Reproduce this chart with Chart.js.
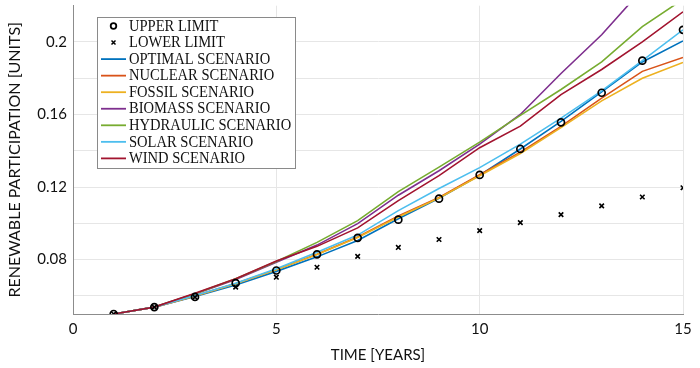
<!DOCTYPE html>
<html>
<head>
<meta charset="utf-8">
<script src="https://cdn.jsdelivr.net/npm/chart.js@4.4.1/dist/chart.umd.min.js"></script>
<style>
  html, body { margin: 0; padding: 0; background: #ffffff; }
  #wrap { width: 700px; height: 368px; position: relative; }
</style>
</head>
<body>
<div id="wrap"><canvas id="c" width="700" height="368"></canvas></div>
<script>
// ---------- data ----------
const years = [1, 2, 3, 4, 5, 6, 7, 8, 9, 10, 11, 12, 13, 14, 15];

const upperLimit = [0.0500, 0.0538, 0.0594, 0.0670, 0.0740, 0.0829, 0.0920, 0.1020, 0.1136, 0.1267, 0.1410, 0.1557, 0.1720, 0.1897, 0.2067];
const lowerLimit = [0.0500, 0.0538, 0.0593, 0.0648, 0.0703, 0.0758, 0.0818, 0.0867, 0.0911, 0.0960, 0.1004, 0.1048, 0.1096, 0.1145, 0.1196];

const optimalScenario   = [0.0500, 0.0538, 0.0597, 0.0660, 0.0735, 0.0815, 0.0905, 0.1025, 0.1138, 0.1265, 0.1410, 0.1562, 0.1725, 0.1890, 0.2006];
const nuclearScenario   = [0.0500, 0.0538, 0.0600, 0.0668, 0.0745, 0.0830, 0.0925, 0.1040, 0.1143, 0.1268, 0.1392, 0.1535, 0.1690, 0.1838, 0.1915];
const fossilScenario    = [0.0500, 0.0538, 0.0600, 0.0667, 0.0744, 0.0828, 0.0922, 0.1035, 0.1140, 0.1262, 0.1385, 0.1528, 0.1675, 0.1800, 0.1887];
const biomassScenario   = [0.0500, 0.0538, 0.0610, 0.0690, 0.0785, 0.0880, 0.0998, 0.1155, 0.1290, 0.1437, 0.1600, 0.1826, 0.2040, 0.2290, 0.2550];
const hydraulicScenario = [0.0500, 0.0538, 0.0612, 0.0695, 0.0790, 0.0895, 0.1015, 0.1175, 0.1310, 0.1448, 0.1595, 0.1738, 0.1890, 0.2085, 0.2235];
const solarScenario     = [0.0500, 0.0538, 0.0602, 0.0670, 0.0750, 0.0840, 0.0935, 0.1070, 0.1192, 0.1307, 0.1437, 0.1580, 0.1730, 0.1897, 0.2067];
const windScenario      = [0.0500, 0.0538, 0.0615, 0.0695, 0.0792, 0.0873, 0.0975, 0.1125, 0.1263, 0.1417, 0.1536, 0.1710, 0.1848, 0.2000, 0.2166];

const seriesLabels = ['UPPER LIMIT', 'LOWER LIMIT', 'OPTIMAL SCENARIO', 'NUCLEAR SCENARIO', 'FOSSIL SCENARIO',
                      'BIOMASS SCENARIO', 'HYDRAULIC SCENARIO', 'SOLAR SCENARIO', 'WIND SCENARIO'];

const xTickValues = [0, 5, 10, 15];
const yGridValues = [0.06, 0.08, 0.10, 0.12, 0.14, 0.16, 0.18, 0.20];
const yLabeledValues = [0.08, 0.12, 0.16, 0.20];
const yTickLabels = ['0.08', '0.12', '0.16', '0.2'];

const xTitle = 'TIME [YEARS]';
const yTitle = 'RENEWABLE PARTICIPATION [UNITS]';

// ---------- styles ----------
const lineColors = ['#0072BD', '#D95319', '#EDB120', '#7E2F8E', '#77AC30', '#4DBEEE', '#A2142F'];
const toXY = arr => arr.map((v, i) => ({ x: years[i], y: v }));

const lineSeries = [optimalScenario, nuclearScenario, fossilScenario, biomassScenario,
                    hydraulicScenario, solarScenario, windScenario];

const datasets = [
  {
    label: seriesLabels[0], data: toXY(upperLimit), showLine: false,
    pointStyle: 'circle', pointRadius: 3.5, pointBorderWidth: 1.7,
    pointBorderColor: '#000', pointBackgroundColor: 'rgba(0,0,0,0)',
    borderColor: '#000', backgroundColor: 'rgba(0,0,0,0)', order: 0, kind: 'circle'
  },
  {
    label: seriesLabels[1], data: toXY(lowerLimit), showLine: false,
    pointStyle: 'crossRot', pointRadius: 3.2, pointBorderWidth: 1.6,
    pointBorderColor: '#000', pointBackgroundColor: '#000',
    borderColor: '#000', backgroundColor: '#000', order: 0, kind: 'cross'
  }
];
lineSeries.forEach((arr, i) => {
  datasets.push({
    label: seriesLabels[i + 2], data: toXY(arr), showLine: true,
    borderColor: lineColors[i], backgroundColor: lineColors[i],
    borderWidth: 1.6, pointRadius: 0, tension: 0, fill: false,
    order: 7 - i, kind: 'line'
  });
});

// ---------- custom in-plot legend (MATLAB style) ----------
const matlabLegend = {
  id: 'matlabLegend',
  afterDraw(chart) {
    const ctx = chart.ctx;
    const bx = 97, by = 17, bw = 198, bh = 151;
    ctx.save();
    ctx.fillStyle = '#ffffff';
    ctx.fillRect(bx, by, bw, bh);
    ctx.strokeStyle = '#8a8a8a';
    ctx.lineWidth = 1;
    ctx.strokeRect(bx + 0.5, by + 0.5, bw, bh);
    const rowY0 = 26, rowH = 16.55;
    chart.data.datasets.forEach((ds, i) => {
      const y = rowY0 + i * rowH;
      if (ds.kind === 'circle') {
        ctx.beginPath();
        ctx.arc(113.5, y, 2.8, 0, Math.PI * 2);
        ctx.strokeStyle = '#000'; ctx.lineWidth = 1.8; ctx.stroke();
      } else if (ds.kind === 'cross') {
        ctx.beginPath();
        ctx.moveTo(111.5, y - 2); ctx.lineTo(115.5, y + 2);
        ctx.moveTo(115.5, y - 2); ctx.lineTo(111.5, y + 2);
        ctx.strokeStyle = '#000'; ctx.lineWidth = 1.5; ctx.stroke();
      } else {
        ctx.beginPath();
        ctx.moveTo(101, y); ctx.lineTo(126, y);
        ctx.strokeStyle = ds.borderColor; ctx.lineWidth = 1.8; ctx.stroke();
      }
      ctx.save();
      ctx.translate(129, y + 0.5);
      ctx.scale(0.91, 1);
      ctx.fillStyle = '#111';
      ctx.font = '16px "Liberation Serif", "Times New Roman", serif';
      ctx.textBaseline = 'middle';
      ctx.textAlign = 'left';
      ctx.fillText(ds.label, 0, 0);
      ctx.restore();
    });
    ctx.restore();
  }
};

const tickFont = { family: 'Lato, "Liberation Sans", sans-serif', size: 15 };

new Chart(document.getElementById('c'), {
  type: 'scatter',
  data: { datasets },
  plugins: [matlabLegend],
  options: {
    responsive: false,
    animation: false,
    devicePixelRatio: 1,
    layout: { padding: { left: 0, right: 17, top: 5, bottom: 0 } },
    plugins: { legend: { display: false }, tooltip: { enabled: false } },
    scales: {
      x: {
        type: 'linear', min: 0, max: 15,
        afterBuildTicks: s => { s.ticks = xTickValues.map(v => ({ value: v })); },
        afterFit: s => { s.height = 54; s.paddingLeft = 0; s.paddingRight = 0; },
        ticks: { font: tickFont, color: '#111', padding: 6, maxRotation: 0,
                 callback: v => String(v) },
        grid: { color: '#e6e6e6', lineWidth: 1, drawTicks: false },
        border: { color: '#8c8c8c', width: 1 },
        title: { display: true, text: xTitle, color: '#111',
                 font: { family: 'Lato, "Liberation Sans", sans-serif', size: 15 },
                 padding: { top: 0, bottom: 4 } }
      },
      y: {
        type: 'linear', min: 0.05, max: 0.22,
        afterBuildTicks: s => { s.ticks = yGridValues.map(v => ({ value: v })); },
        afterFit: s => { s.width = 73; s.paddingTop = 0; s.paddingBottom = 0; },
        ticks: { font: tickFont, color: '#111', padding: 6,
                 callback: v => {
                   const k = yLabeledValues.findIndex(t => Math.abs(t - v) < 1e-9);
                   return k >= 0 ? yTickLabels[k] : '';
                 } },
        grid: { color: '#e6e6e6', lineWidth: 1, drawTicks: false },
        border: { color: '#8c8c8c', width: 1 },
        title: { display: true, text: yTitle, color: '#111',
                 font: { family: 'Lato, "Liberation Sans", sans-serif', size: 16 },
                 padding: { top: 5, bottom: 0 } }
      }
    }
  }
});
</script>
</body>
</html>
